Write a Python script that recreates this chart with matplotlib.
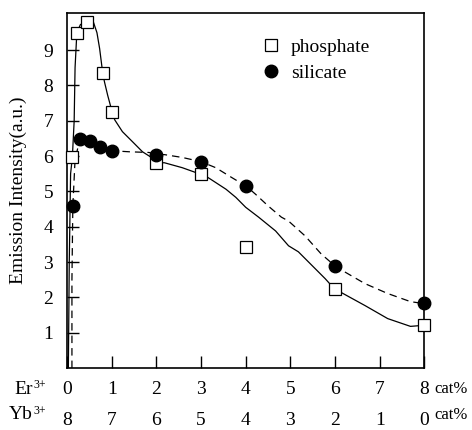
import matplotlib.pyplot as plt

# measured points (Er3+ content in cat%, emission intensity a.u.)
phos_x = [0.12, 0.22, 0.44, 0.8, 1.0, 2.0, 3.0, 4.0, 6.0, 8.0]
phos_y = [5.98, 9.49, 9.80, 8.34, 7.25, 5.81, 5.50, 3.43, 2.25, 1.21]
sil_x = [0.13, 0.29, 0.51, 0.73, 1.0, 2.0, 3.0, 4.0, 6.0, 8.0]
sil_y = [4.58, 6.49, 6.43, 6.26, 6.15, 6.04, 5.84, 5.14, 2.89, 1.83]

# hand-drawn guide curves
phos_cx = [0.03, 0.05, 0.08, 0.12, 0.16, 0.18, 0.22, 0.30, 0.44, 0.58, 0.67, 0.73,
           0.80, 0.84, 0.91, 0.98, 1.0, 1.07, 1.24, 1.47, 1.69, 1.89, 2.0, 2.18,
           2.58, 2.89, 3.02, 3.22, 3.56, 3.78, 4.0, 4.29, 4.67, 4.96, 5.18, 5.78,
           5.98, 6.18, 6.67, 7.18, 7.69, 7.98]
phos_cy = [0.0, 3.0, 5.5, 5.98, 7.0, 8.5, 9.49, 9.72, 9.80, 9.83, 9.49, 9.04,
           8.34, 8.09, 7.72, 7.39, 7.25, 7.02, 6.69, 6.40, 6.12, 5.96, 5.81, 5.81,
           5.67, 5.53, 5.50, 5.34, 5.06, 4.83, 4.55, 4.27, 3.88, 3.46, 3.29, 2.53,
           2.25, 2.11, 1.77, 1.40, 1.18, 1.21]
sil_cx = [0.11, 0.11, 0.13, 0.18, 0.29, 0.51, 0.73, 1.0, 1.4, 1.84, 2.0, 2.18,
          2.58, 3.0, 3.33, 3.69, 4.02, 4.22, 4.51, 4.8, 4.96, 5.33, 5.69, 6.0,
          6.22, 6.67, 7.18, 7.69, 7.96]
sil_cy = [0.0, 2.5, 4.58, 5.9, 6.49, 6.43, 6.26, 6.15, 6.12, 6.10, 6.04, 6.04,
          5.96, 5.84, 5.67, 5.39, 5.14, 4.92, 4.58, 4.27, 4.16, 3.74, 3.23, 2.89,
          2.72, 2.39, 2.11, 1.88, 1.83]

er_ticks = [0, 1, 2, 3, 4, 5, 6, 7, 8]
yb_ticks = [8, 7, 6, 5, 4, 3, 2, 1, 0]
y_ticks = [1, 2, 3, 4, 5, 6, 7, 8, 9]
row_names = ['Er', 'Yb']

plt.rcParams['font.family'] = ['Liberation Serif', 'DejaVu Serif']

fig = plt.figure(figsize=(4.72, 4.30), dpi=100)
ax = fig.add_axes([0.142, 0.144, 0.757, 0.826])

ax.plot(phos_cx, phos_cy, color='black', lw=0.9, zorder=2)
ax.plot(sil_cx, sil_cy, color='black', lw=0.9, ls=(0, (6, 4)), zorder=2)
ax.plot(phos_x, phos_y, ls='none', marker='s', ms=8.5, mfc='white', mec='black',
        mew=0.9, zorder=3, label='phosphate', clip_on=False)
ax.plot(sil_x, sil_y, ls='none', marker='o', ms=9, mfc='black', mec='black',
        zorder=4, label='silicate', clip_on=False)

ax.set_xlim(0, 8)
ax.set_ylim(0, 10.05)
ax.set_yticks(y_ticks)
ax.set_yticklabels([str(v) for v in y_ticks], fontsize=14)
ax.set_xticks(er_ticks)
ax.set_xticklabels([f'{a}\n\n{b}' for a, b in zip(er_ticks, yb_ticks)],
                   fontsize=14, linespacing=0.9)
ax.tick_params(direction='in', length=8.5, width=1.0)
ax.tick_params(axis='x', pad=9)
ax.tick_params(axis='y', pad=10)
for s in ax.spines.values():
    s.set_linewidth(1.2)

for name, yy in zip(row_names, [-0.06, -0.132]):
    ax.text(-0.095, yy, name, transform=ax.transAxes, ha='right',
            va='center', fontsize=14)
    ax.text(-0.093, yy + 0.012, '3+', transform=ax.transAxes, ha='left',
            va='center', fontsize=8.5)
    ax.text(1.028, yy, 'cat%', transform=ax.transAxes, ha='left',
            va='center', fontsize=12)

ax.set_ylabel('Emission Intensity(a.u.)', fontsize=14, labelpad=12)

ax.legend(loc='upper left', bbox_to_anchor=(0.49, 0.978), frameon=False,
          fontsize=14, handletextpad=0.4, labelspacing=0.45, handlelength=1.2)

fig.savefig('out.png', dpi=100)
